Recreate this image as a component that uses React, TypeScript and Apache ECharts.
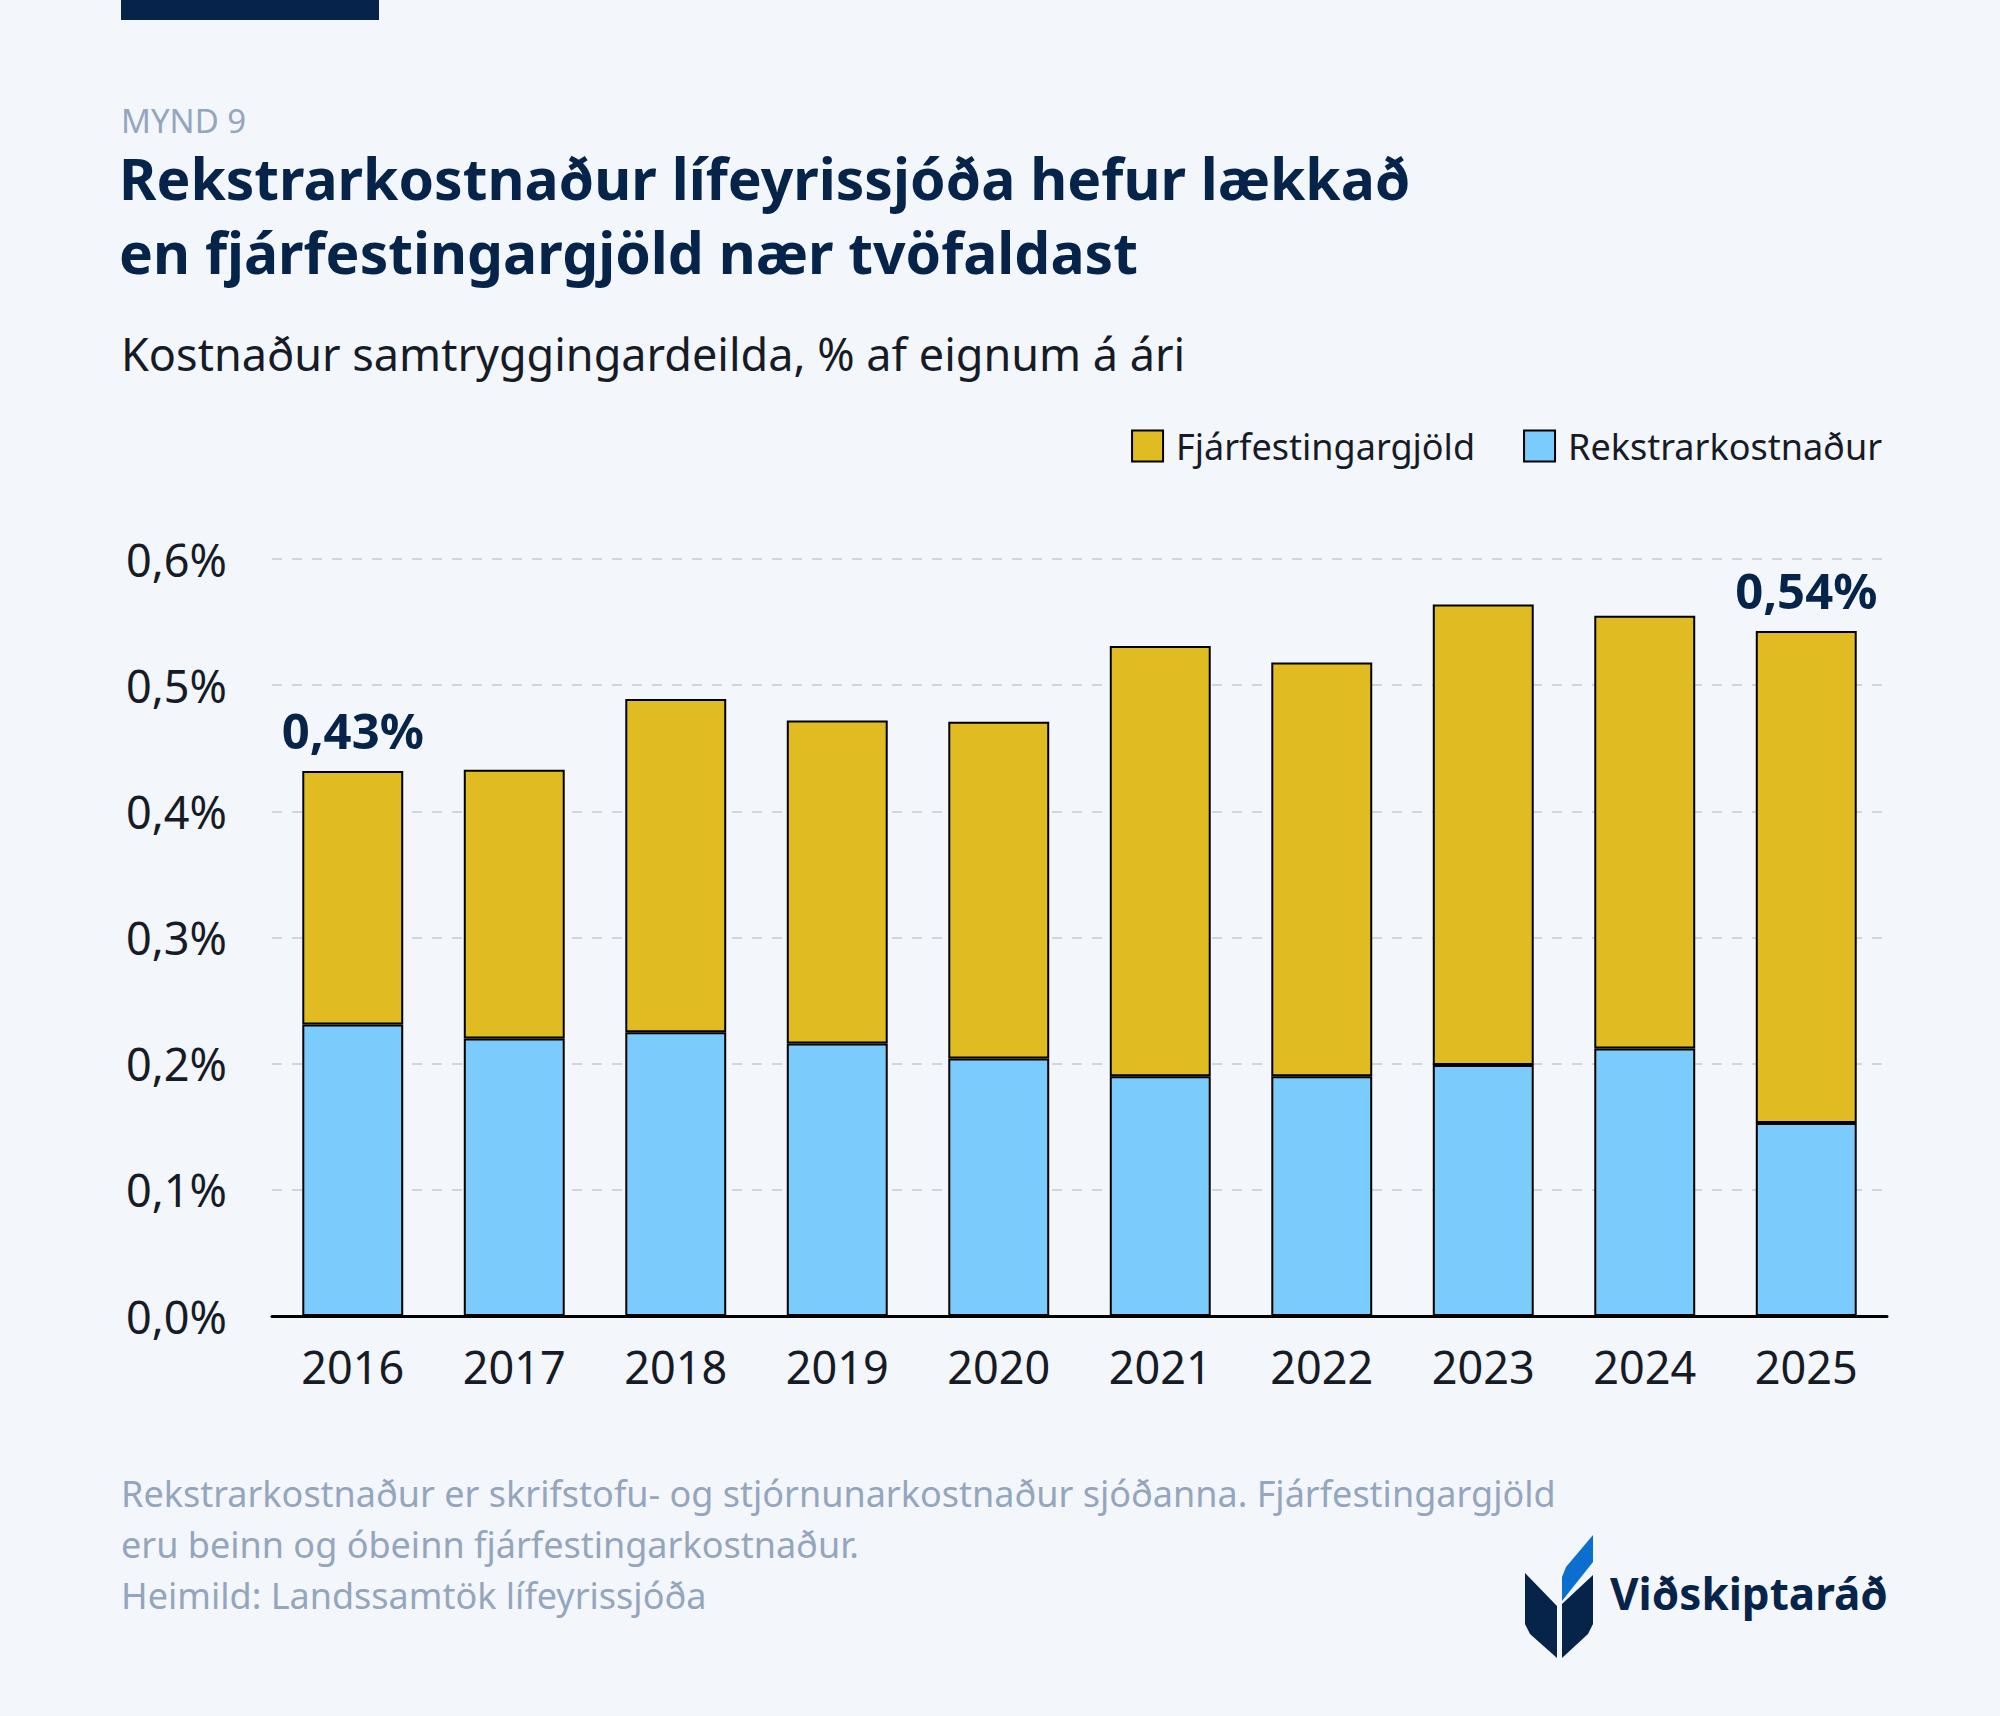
import React, { useEffect, useRef } from 'react';
import * as echarts from 'echarts';

// Kostnaður samtryggingardeilda, % af eignum á ári
const years = ['2016', '2017', '2018', '2019', '2020', '2021', '2022', '2023', '2024', '2025'];
const rekstrarkostnadur = [0.231, 0.22, 0.225, 0.216, 0.204, 0.19, 0.19, 0.199, 0.212, 0.153];
const fjarfestingargjold = [0.201, 0.213, 0.264, 0.256, 0.267, 0.341, 0.328, 0.365, 0.343, 0.39];
// árin sem fá heildartölu fyrir ofan súluna
const labelledYears = ['2016', '2025'];

const NAVY = '#06244a';
const GREY = '#94a6bd';
const INK = '#161b26';
const YELLOW = '#e0bc22';
const BLUE = '#7ccbfd';
const BG = '#f3f6fb';
const FONT = '"Noto Sans", sans-serif';

const fmt = (v: number, d: number) => v.toFixed(d).replace('.', ',');

const App: React.FC = () => {
  const chartRef = useRef<HTMLDivElement>(null);

  useEffect(() => {
    document.body.style.margin = '0';
    if (!chartRef.current) return;
    const chart = echarts.init(chartRef.current, null, { renderer: 'svg' });

    const option = {
      animation: false,
      backgroundColor: BG,
      textStyle: { fontFamily: FONT },
      grid: { left: 272, right: 113, top: 559, bottom: 400, containLabel: false },
      legend: {
        data: ['Fjárfestingargjöld', 'Rekstrarkostnaður'],
        right: 113,
        top: 423,
        itemWidth: 31,
        itemHeight: 31,
        itemGap: 48,
        icon: 'rect',
        textStyle: { fontSize: 36, color: INK, fontFamily: FONT, padding: [0, 0, 0, 8] }
      },
      xAxis: {
        type: 'category',
        data: years,
        axisLine: { lineStyle: { color: '#000', width: 3 } },
        axisTick: { show: false },
        axisLabel: { fontSize: 45, color: INK, margin: 28, fontFamily: FONT }
      },
      yAxis: {
        type: 'value',
        min: 0,
        max: 0.6,
        interval: 0.1,
        axisLine: { show: false },
        axisTick: { show: false },
        axisLabel: {
          fontSize: 45,
          color: INK,
          margin: 45,
          fontFamily: FONT,
          formatter: (v: number) => fmt(v, 1) + '%'
        },
        splitLine: { lineStyle: { color: '#cdd7e2', width: 2, type: [10, 10] } }
      },
      series: [
        {
          name: 'Rekstrarkostnaður',
          type: 'bar',
          stack: 'total',
          barWidth: '62.5%',
          data: rekstrarkostnadur,
          itemStyle: { color: BLUE, borderColor: '#000', borderWidth: 2 }
        },
        {
          name: 'Fjárfestingargjöld',
          type: 'bar',
          stack: 'total',
          barWidth: '62.5%',
          data: fjarfestingargjold.map((v, i) =>
            labelledYears.includes(years[i])
              ? {
                  value: v,
                  label: {
                    show: true,
                    position: 'top',
                    distance: 16,
                    fontSize: 49,
                    fontWeight: 'bold',
                    color: NAVY,
                    fontFamily: FONT,
                    formatter: () => fmt(v + rekstrarkostnadur[i], 2) + '%'
                  }
                }
              : v
          ),
          itemStyle: { color: YELLOW, borderColor: '#000', borderWidth: 2 }
        }
      ],
      graphic: [
        { type: 'rect', left: 121, top: 0, shape: { width: 258, height: 20 }, style: { fill: NAVY } },
        {
          type: 'text', x: 121, y: 120,
          style: { text: 'MYND 9', fontSize: 33, lineHeight: 30, verticalAlign: 'middle', fill: GREY, fontFamily: FONT }
        },
        {
          type: 'text', x: 119, y: 178,
          style: {
            text: 'Rekstrarkostnaður lífeyrissjóða hefur lækkað',
            fontSize: 57, fontWeight: 'bold', lineHeight: 58, verticalAlign: 'middle', fill: NAVY, fontFamily: FONT
          }
        },
        {
          type: 'text', x: 119, y: 252,
          style: {
            text: 'en fjárfestingargjöld nær tvöfaldast',
            fontSize: 57, fontWeight: 'bold', lineHeight: 58, verticalAlign: 'middle', fill: NAVY, fontFamily: FONT
          }
        },
        {
          type: 'text', left: 121, top: 331,
          style: { text: 'Kostnaður samtryggingardeilda, % af eignum á ári', fontSize: 45, fill: INK, fontFamily: FONT }
        },
        {
          type: 'text', left: 121, top: 1468,
          style: {
            text: 'Rekstrarkostnaður er skrifstofu- og stjórnunarkostnaður sjóðanna. Fjárfestingargjöld\neru beinn og óbeinn fjárfestingarkostnaður.\nHeimild: Landssamtök lífeyrissjóða',
            fontSize: 36, lineHeight: 51, fill: GREY, fontFamily: FONT
          }
        },
        // merki Viðskiptaráðs
        {
          type: 'polygon',
          shape: { points: [[1525, 1573], [1557, 1606], [1557, 1658], [1530, 1634], [1525, 1624]] },
          style: { fill: NAVY }
        },
        {
          type: 'polygon',
          shape: { points: [[1562, 1604], [1593, 1575], [1593, 1624], [1588, 1634], [1562, 1658]] },
          style: { fill: NAVY }
        },
        {
          type: 'polygon',
          shape: { points: [[1562, 1601], [1562, 1577], [1566, 1567], [1593, 1535], [1593, 1562]] },
          style: { fill: '#0a6fcf' }
        },
        {
          type: 'text', left: 1610, top: 1571,
          style: { text: 'Viðskiptaráð', fontSize: 44, fontWeight: 'bold', fill: NAVY, fontFamily: FONT }
        }
      ]
    };

    chart.setOption(option);
    return () => chart.dispose();
  }, []);

  return <div ref={chartRef} style={{ width: 2000, height: 1716 }} />;
};

export default App;
